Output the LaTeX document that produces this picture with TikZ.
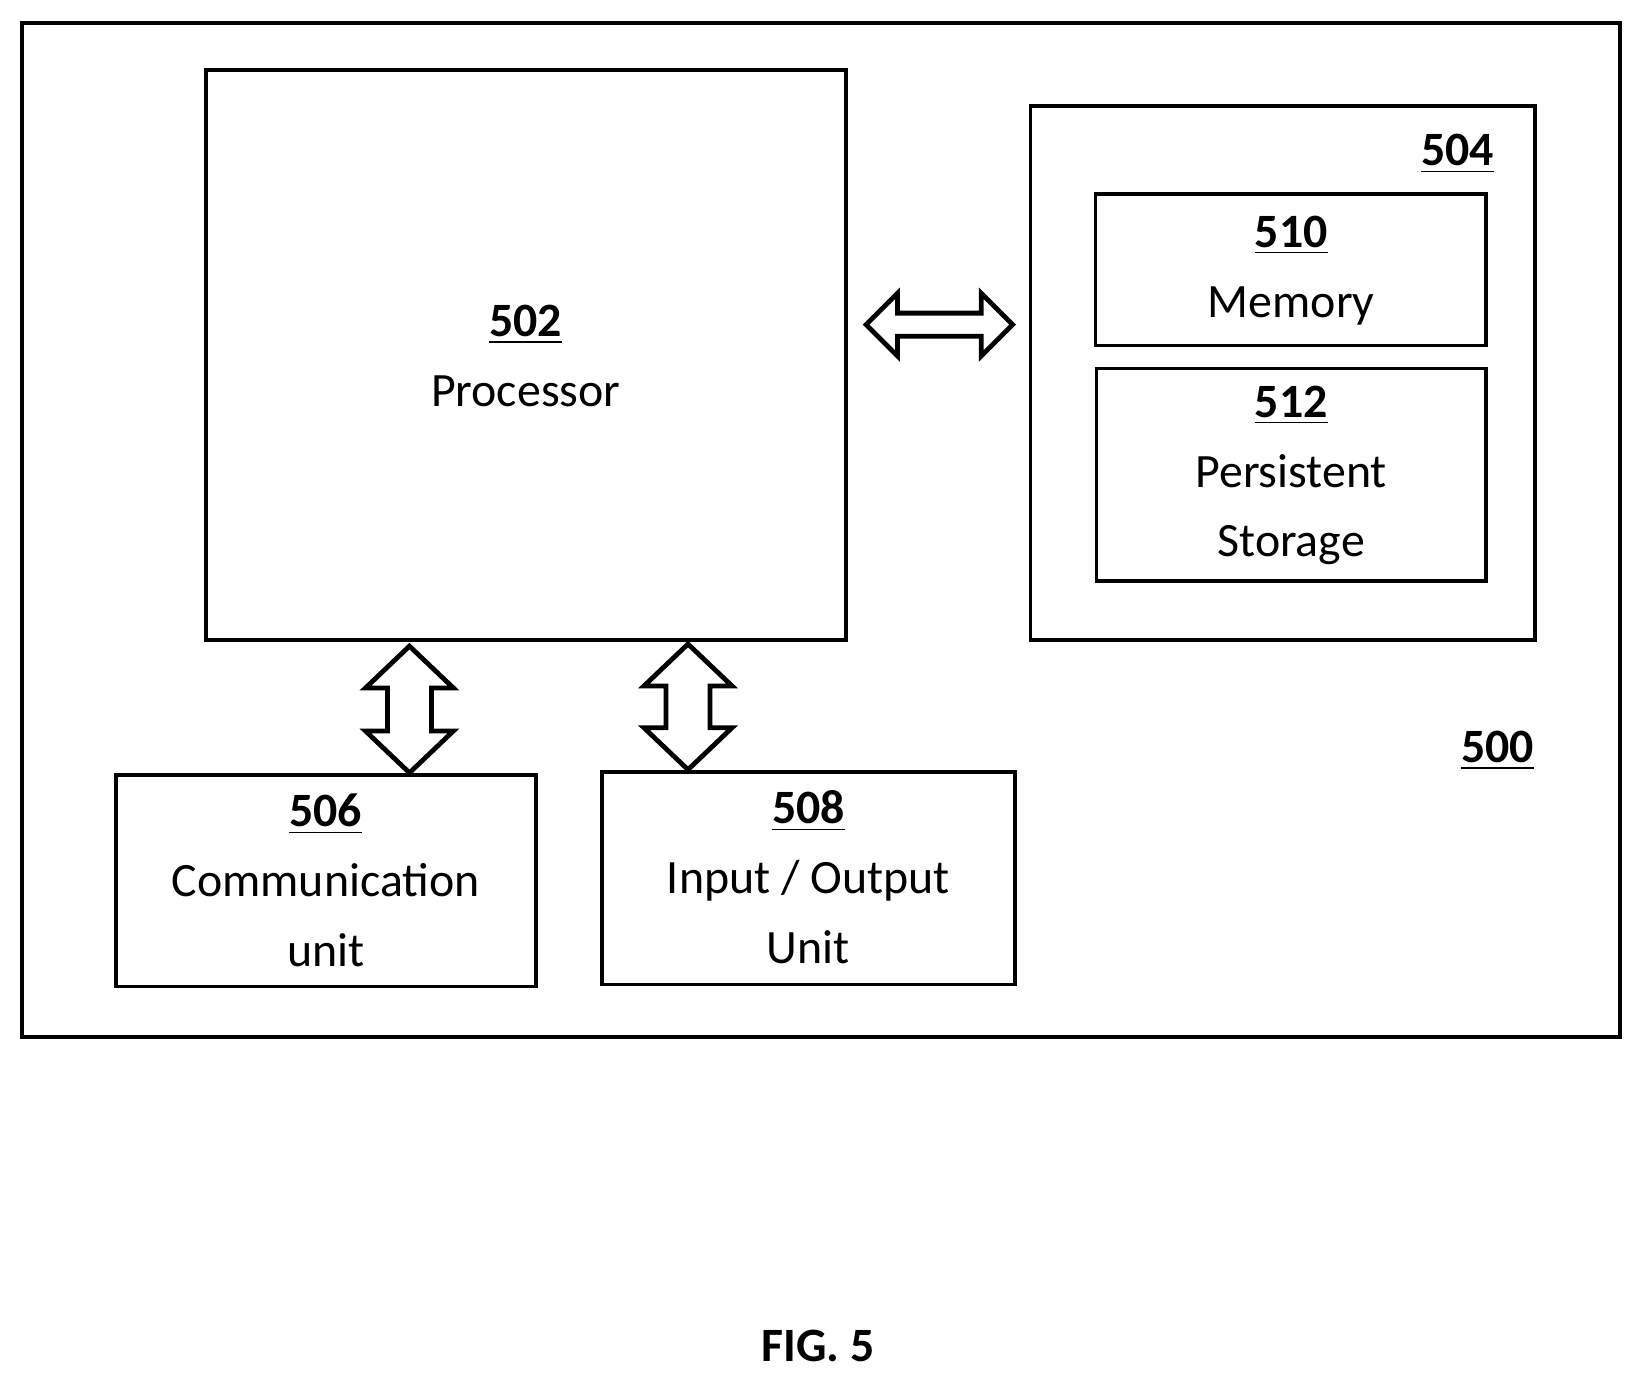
\documentclass[tikz,border=0pt]{standalone}
\usepackage{fontspec}
\setmainfont{Carlito}
\begin{document}
\begin{tikzpicture}[x=0.01cm,y=-0.01cm,line width=1pt,
  box/.style={draw,line width=1pt},
  lab/.style={align=center,font=\fontsize{13pt}{19pt}\selectfont},
  num/.style={font=\fontsize{13pt}{16pt}\selectfont\bfseries}]
\useasboundingbox (0,0) rectangle (1568,1320);
\draw[box] (21,22) rectangle (1547,990);
\draw[box] (197,67) rectangle (808,611);
\draw[box] (984,101) rectangle (1466,611);
\draw[box] (1046,185) rectangle (1419,330);
\draw[box] (1047,352) rectangle (1419,555);
\draw[box] (111,740) rectangle (512,942);
\draw[box] (575,737) rectangle (969,940);
\node[lab] (p) at (502,340) {\textbf{\underline{502}}\\Processor};
\node[num] (s) at (1392,147) {\underline{504}};
\node[num] (o) at (1430,717) {\underline{500}};
\node[lab] (m) at (1233,258) {\textbf{\underline{510}}\\Memory};
\node[lab] (ps) at (1233,454) {\textbf{\underline{512}}\\Persistent\\Storage};
\node[lab] (c) at (311,841) {\textbf{\underline{506}}\\Communication\\unit};
\node[lab] (io) at (772,838) {\textbf{\underline{508}}\\Input / Output\\Unit};
\node[num] (f) at (781,1285) {FIG. 5};
% horizontal double arrow
\draw[line width=1.3pt,line join=miter] (827,310) -- (857,280) -- (857,299) -- (937,299) -- (937,280) -- (967,310) -- (937,340) -- (937,321) -- (857,321) -- (857,340) -- cycle;
% vertical arrows
\foreach \cx/\t/\b in {391/617/738, 657/615/735}{
\draw[line width=1.3pt,line join=miter] (\cx,\t) -- (\cx+42,\t+40) -- (\cx+21,\t+40) -- (\cx+21,\b-40) -- (\cx+42,\b-40) -- (\cx,\b) -- (\cx-42,\b-40) -- (\cx-21,\b-40) -- (\cx-21,\t+40) -- (\cx-42,\t+40) -- cycle;}
\end{tikzpicture}
\end{document}
